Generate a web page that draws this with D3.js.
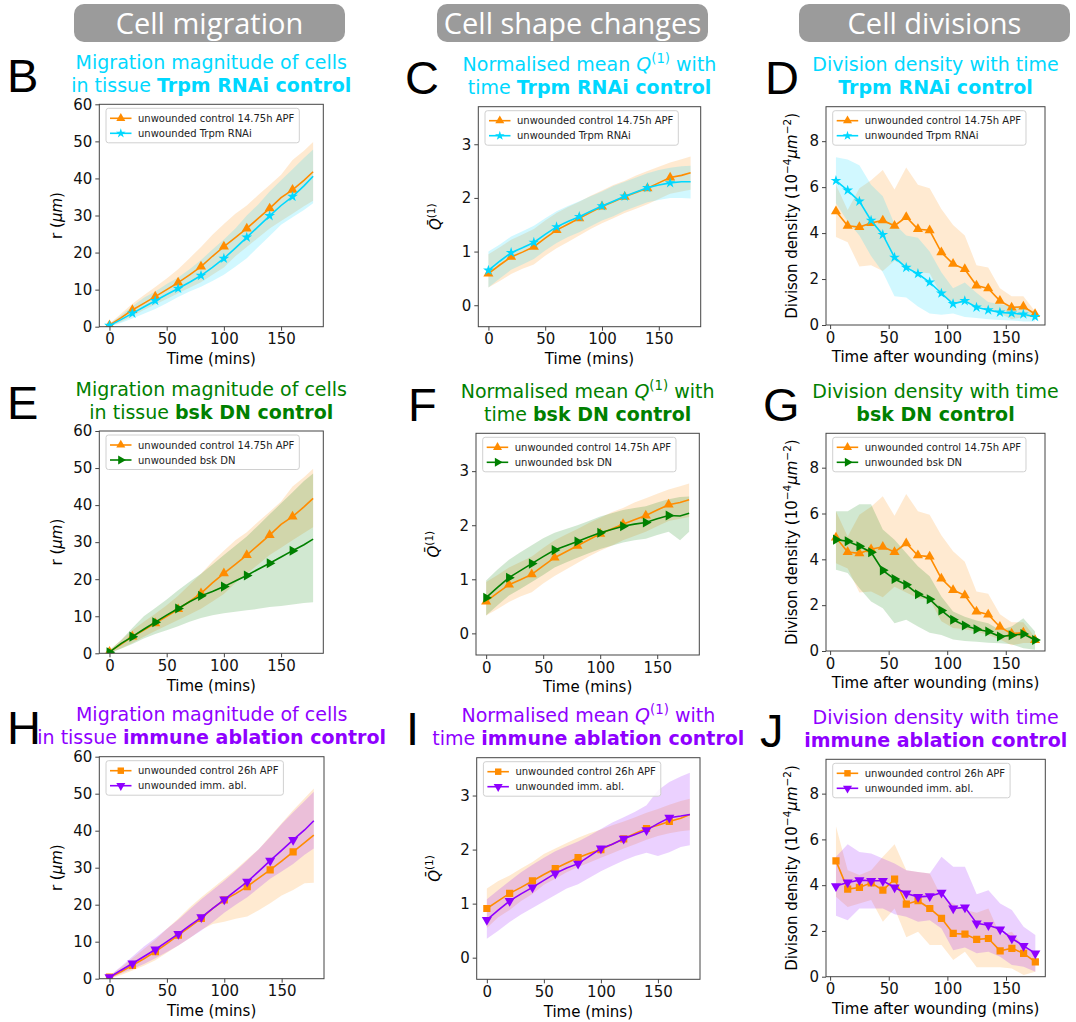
<!DOCTYPE html>
<html><head><meta charset="utf-8">
<script src="https://cdn.jsdelivr.net/npm/d3@7"></script>
<style>
body{margin:0;background:#fff}
svg{display:block}
text{font-family:"DejaVu Sans",sans-serif}
</style>
</head><body><div id="chart"></div>
<script>
// time grids
const tMig = [0,10,20,30,40,50,60,70,80,90,100,110,120,130,140,150,160,170,178]
const tDiv = [5,15,25,35,45,55,65,75,85,95,105,115,125,135,145,155,165,175]
const markMig = [0,20,40,60,80,100,120,140,160]

// migration r (um) - control 14.75h APF
const migCtrl15 = [0.4,2.4,4.5,6.3,8.1,10.0,11.9,14.0,16.2,19.0,21.6,24.0,26.5,29.2,31.9,34.8,36.9,39.5,41.8]
const migCtrl15Up = [0.8,3.5,6.2,8.5,10.7,13.0,15.5,18.5,21.5,24.8,27.7,30.5,32.7,35.5,38.2,41.0,45.0,47.5,49.8]
const migCtrl15Lo = [0.1,1.3,2.8,4.5,6.0,7.5,9.0,10.5,12.0,14.0,16.0,19.0,21.5,24.0,26.5,28.5,30.5,32.5,34.0]
// migration - Trpm RNAi
const migTrpm = [0.3,1.9,3.6,5.3,7.0,8.7,10.3,12.0,13.8,16.0,18.4,21.2,24.1,27.0,29.9,32.7,35.1,38.0,40.6]
const migTrpmUp = [0.7,3.0,5.5,7.8,9.5,11.5,13.3,15.5,18.0,20.8,23.5,26.5,30.0,33.0,36.5,39.5,42.5,45.5,47.8]
const migTrpmLo = [0.0,1.0,2.2,3.5,4.8,6.3,8.0,9.5,10.8,12.3,14.0,16.2,18.5,21.5,24.5,27.5,29.5,31.5,33.3]
// migration - bsk DN
const migBsk = [0.3,2.6,4.5,6.5,8.4,10.3,12.1,13.9,15.5,16.7,18.0,19.5,21.0,22.7,24.3,26.0,27.7,29.3,30.8]
const migBskUp = [0.8,3.5,6.8,10.0,12.2,14.5,17.0,19.3,21.5,24.0,26.5,29.0,31.5,34.5,37.5,40.5,43.5,46.5,48.5]
const migBskLo = [0.0,1.2,2.5,4.0,5.2,6.2,7.3,8.5,9.5,10.3,10.8,11.2,11.6,12.0,12.5,12.8,13.2,13.6,13.8]
// migration - control 26h APF
const migCtrl26 = [0.4,1.9,3.6,5.4,7.3,9.5,11.8,14.0,16.3,19.0,21.3,23.0,24.9,27.2,29.4,31.8,34.3,36.8,38.8]
const migCtrl26Up = [0.8,3.0,5.5,8.0,10.5,13.5,16.3,19.3,22.0,24.5,27.0,29.5,32.3,35.0,38.5,42.0,45.5,48.8,51.4]
const migCtrl26Lo = [0.0,1.0,2.2,3.5,5.0,7.0,9.0,11.0,13.2,14.8,15.4,16.2,16.8,18.5,20.4,22.5,24.0,25.8,25.9]
// migration - immune ablation
const migImm = [0.4,2.3,4.1,6.0,7.9,10.0,12.1,14.4,16.6,19.0,21.4,23.8,26.2,29.0,31.9,34.7,37.5,40.2,42.7]
const migImmUp = [0.8,3.3,6.0,8.7,11.0,13.5,16.0,18.8,21.5,24.0,26.5,29.2,32.0,35.0,38.3,41.8,45.0,48.0,50.5]
const migImmLo = [0.0,1.4,2.6,4.0,5.5,7.2,9.0,11.0,13.0,15.3,17.8,20.0,22.0,24.5,27.0,29.0,31.0,33.5,35.2]

// normalised mean Q(1)
const qCtrl15 = [0.59,0.75,0.90,0.99,1.09,1.25,1.40,1.51,1.62,1.73,1.84,1.93,2.02,2.10,2.18,2.28,2.38,2.42,2.47]
const qCtrl15Up = [0.95,1.08,1.22,1.32,1.42,1.58,1.72,1.83,1.93,2.04,2.14,2.24,2.32,2.42,2.50,2.58,2.66,2.72,2.77]
const qCtrl15Lo = [0.33,0.45,0.58,0.68,0.76,0.92,1.06,1.18,1.30,1.42,1.53,1.62,1.72,1.80,1.88,1.98,2.08,2.12,2.15]
const qTrpm = [0.65,0.82,0.98,1.07,1.17,1.32,1.46,1.56,1.65,1.75,1.85,1.94,2.03,2.11,2.19,2.24,2.28,2.30,2.30]
const qTrpmUp = [1.00,1.13,1.28,1.38,1.48,1.62,1.75,1.85,1.94,2.03,2.12,2.22,2.30,2.38,2.46,2.52,2.56,2.59,2.60]
const qTrpmLo = [0.33,0.50,0.66,0.76,0.86,1.02,1.16,1.27,1.36,1.47,1.58,1.66,1.76,1.84,1.92,1.96,2.00,2.00,1.99]
const qBsk = [0.66,0.85,1.03,1.16,1.29,1.42,1.54,1.62,1.70,1.78,1.86,1.92,1.98,2.02,2.05,2.12,2.18,2.17,2.22]
const qBskUp = [0.98,1.18,1.36,1.50,1.63,1.76,1.86,1.93,2.00,2.08,2.16,2.22,2.28,2.32,2.35,2.42,2.48,2.52,2.53]
const qBskLo = [0.33,0.52,0.70,0.82,0.95,1.08,1.22,1.31,1.40,1.48,1.56,1.62,1.68,1.72,1.75,1.82,1.88,1.72,1.88]
const qCtrl26 = [0.91,1.05,1.19,1.30,1.42,1.54,1.65,1.75,1.85,1.93,2.00,2.10,2.20,2.30,2.39,2.45,2.52,2.58,2.65]
const qCtrl26Up = [1.28,1.42,1.52,1.65,1.77,1.92,2.02,2.12,2.22,2.30,2.37,2.45,2.52,2.60,2.68,2.75,2.83,2.90,2.94]
const qCtrl26Lo = [0.55,0.75,0.88,1.05,1.18,1.35,1.46,1.58,1.68,1.76,1.85,1.93,2.02,2.10,2.18,2.25,2.30,2.34,2.36]
const qImm = [0.70,0.88,1.05,1.18,1.30,1.43,1.56,1.66,1.74,1.88,2.02,2.10,2.20,2.28,2.36,2.48,2.59,2.62,2.65]
const qImmUp = [1.08,1.25,1.42,1.58,1.72,1.85,1.97,2.06,2.15,2.26,2.38,2.50,2.60,2.70,2.82,3.10,3.25,3.35,3.42]
const qImmLo = [0.35,0.50,0.66,0.80,0.92,1.04,1.16,1.28,1.36,1.48,1.60,1.70,1.80,1.88,1.94,1.88,1.95,2.05,2.08]

// division density (1e-4 um^-2)
const divCtrl15 = [4.95,4.32,4.26,4.44,4.55,4.32,4.70,4.17,4.12,3.16,2.66,2.43,1.72,1.59,1.05,0.76,0.80,0.48]
const divCtrl15Up = [6.1,5.0,5.95,6.3,6.75,5.9,6.85,6.1,5.95,5.05,4.35,3.9,2.6,2.5,1.6,1.25,1.25,0.6]
const divCtrl15Lo = [3.83,3.6,2.55,2.6,2.35,2.8,2.55,2.3,2.25,1.3,1.0,0.95,0.85,0.7,0.5,0.25,0.35,0.35]
const divTrpm = [6.28,5.86,5.38,4.55,3.93,2.94,2.50,2.23,1.86,1.38,0.92,1.05,0.77,0.65,0.55,0.51,0.47,0.36]
const divTrpmUp = [7.3,7.2,6.95,6.1,5.6,4.4,3.9,3.8,3.2,2.3,1.6,1.85,1.4,1.0,0.9,0.85,0.75,0.55]
const divTrpmLo = [5.3,4.5,3.9,3.0,2.3,1.25,1.2,0.8,0.5,0.45,0.5,0.35,0.3,0.25,0.22,0.2,0.15,0.15]
const divBsk = [4.86,4.79,4.57,4.31,3.52,3.14,2.89,2.48,2.26,1.77,1.36,1.11,0.95,0.85,0.63,0.69,0.74,0.48]
const divBskUp = [6.1,6.1,6.4,6.4,5.3,4.86,4.28,3.7,3.26,2.38,1.72,1.5,1.33,1.21,0.92,1.07,1.43,0.85]
const divBskLo = [3.55,3.4,2.74,2.16,1.87,1.21,1.36,1.07,0.8,0.7,0.5,0.44,0.4,0.36,0.34,0.29,0.12,0.05]
const divCtrl26 = [5.06,3.83,3.90,4.10,3.78,4.26,3.17,3.32,2.98,2.55,1.89,1.86,1.63,1.67,1.13,1.24,1.02,0.65]
const divCtrl26Up = [6.57,4.65,4.44,4.65,5.24,5.79,4.65,4.58,4.51,3.49,3.2,2.91,2.79,2.98,1.82,1.96,1.31,1.02]
const divCtrl26Lo = [3.49,3.05,3.2,3.35,2.4,2.98,1.72,1.96,1.38,1.38,0.73,1.09,0.41,0.41,0.41,0.36,0.07,0.22]
const divImm = [3.96,4.12,4.22,4.19,4.19,3.90,3.64,3.49,3.52,3.67,2.98,3.03,2.33,2.25,2.07,1.67,1.35,1.02]
const divImmUp = [5.24,5.79,5.45,5.38,5.16,4.95,4.65,4.58,4.51,5.24,4.8,4.8,3.6,3.78,3.2,2.91,2.18,1.82]
const divImmLo = [2.66,2.47,2.98,2.98,2.98,2.73,2.62,2.4,2.47,2.11,1.16,1.28,1.02,1.09,0.87,0.51,0.44,0.22]

// ticks
const xTicks = [0,50,100,150]
const yTicksMig = [0,10,20,30,40,50,60]
const yTicksQ = [0,1,2,3]
const yTicksDiv = [0,2,4,6,8]

const headers = ["Cell migration","Cell shape changes","Cell divisions"]

const ORANGE = "#ff8c00", CYAN = "#00d8ff", GREEN = "#008000", PURPLE = "#8f00ff"

const W = 1076, H = 1022
const svg = d3.select("#chart").append("svg").attr("width", W).attr("height", H)

// header pills
const headerBoxes = [[74,4,271,38],[437,4,271,38],[799,4,271,38]]
headers.forEach(function(h, i){
  const b = headerBoxes[i]
  svg.append("rect").attr("x", b[0]).attr("y", b[1]).attr("width", b[2]).attr("height", b[3])
    .attr("rx", 10).attr("fill", "#9b9b9b")
  svg.append("text").attr("x", b[0] + b[2]/2).attr("y", b[1] + 30)
    .attr("text-anchor", "middle").attr("fill", "#fff")
    .style("font-family", "'Open Sans'").style("font-size", "29px").text(h)
})

// writes rich text (bold / italic / superscript pieces) into a text element
function rich(sel, segs, fs) {
  let shift = 0
  segs.forEach(function(s){
    const ts = sel.append("tspan").text(s.t)
    if (s.b) ts.attr("font-weight", "bold")
    if (s.i) ts.attr("font-style", "italic")
    const want = s.sup ? -fs*0.42 : 0
    if (want !== shift) { ts.attr("dy", want - shift); shift = want }
    if (s.sup) ts.style("font-size", (fs*0.7) + "px")
  })
}

const sym = {
  up: {type: d3.symbolTriangle, size: 44, rot: 0},
  star: {type: d3.symbolStar, size: 36, rot: 0},
  right: {type: d3.symbolTriangle, size: 44, rot: 90},
  square: {type: d3.symbolSquare, size: 52, rot: 0},
  down: {type: d3.symbolTriangle, size: 44, rot: 180}
}

const migY = [{t:"r ("},{t:"μm",i:true},{t:")"}]
const qY = [{t:"Q\u0304",i:true},{t:"(1)",sup:true}]
const divY = [{t:"Divison density (10"},{t:"−4",sup:true},{t:"μm",i:true},{t:"−2",sup:true},{t:")"}]

function s(name, color, marker, x, y, lo, hi, marks) {
  return {name: name, color: color, marker: marker, x: x, y: y, lo: lo, hi: hi, marks: marks}
}

const panels = [
  {letter:"B", box:[99.3,104.3,224,222.4], lx:7, kind:"mig", color:CYAN,
   t1:[{t:"Migration magnitude of cells"}], t2:[{t:"in tissue "},{t:"Trpm RNAi control",b:true}],
   series:[s("unwounded control 14.75h APF",ORANGE,"up",tMig,migCtrl15,migCtrl15Lo,migCtrl15Up,markMig),
           s("unwounded Trpm RNAi",CYAN,"star",tMig,migTrpm,migTrpmLo,migTrpmUp,markMig)]},
  {letter:"C", box:[478.3,106.7,222.4,220], lx:405, kind:"q", color:CYAN,
   t1:[{t:"Normalised mean "},{t:"Q",i:true},{t:"(1)",sup:true},{t:" with"}], t2:[{t:"time "},{t:"Trpm RNAi control",b:true}],
   series:[s("unwounded control 14.75h APF",ORANGE,"up",tMig,qCtrl15,qCtrl15Lo,qCtrl15Up,markMig),
           s("unwounded Trpm RNAi",CYAN,"star",tMig,qTrpm,qTrpmLo,qTrpmUp,markMig)]},
  {letter:"D", box:[826,106.7,219,218.3], lx:765, kind:"div", color:CYAN,
   t1:[{t:"Division density with time"}], t2:[{t:"Trpm RNAi control",b:true}],
   series:[s("unwounded control 14.75h APF",ORANGE,"up",tDiv,divCtrl15,divCtrl15Lo,divCtrl15Up,tDiv),
           s("unwounded Trpm RNAi",CYAN,"star",tDiv,divTrpm,divTrpmLo,divTrpmUp,tDiv)]},
  {letter:"E", box:[99.3,431,224,222.3], lx:7, kind:"mig", color:GREEN,
   t1:[{t:"Migration magnitude of cells"}], t2:[{t:"in tissue "},{t:"bsk DN control",b:true}],
   series:[s("unwounded control 14.75h APF",ORANGE,"up",tMig,migCtrl15,migCtrl15Lo,migCtrl15Up,markMig),
           s("unwounded bsk DN",GREEN,"right",tMig,migBsk,migBskLo,migBskUp,markMig)]},
  {letter:"F", box:[476,433.3,223.3,221.7], lx:408, kind:"q", color:GREEN,
   t1:[{t:"Normalised mean "},{t:"Q",i:true},{t:"(1)",sup:true},{t:" with"}], t2:[{t:"time "},{t:"bsk DN control",b:true}],
   series:[s("unwounded control 14.75h APF",ORANGE,"up",tMig,qCtrl15,qCtrl15Lo,qCtrl15Up,markMig),
           s("unwounded bsk DN",GREEN,"right",tMig,qBsk,qBskLo,qBskUp,markMig)]},
  {letter:"G", box:[826,433.3,219,217.7], lx:763, kind:"div", color:GREEN,
   t1:[{t:"Division density with time"}], t2:[{t:"bsk DN control",b:true}],
   series:[s("unwounded control 14.75h APF",ORANGE,"up",tDiv,divCtrl15,divCtrl15Lo,divCtrl15Up,tDiv),
           s("unwounded bsk DN",GREEN,"right",tDiv,divBsk,divBskLo,divBskUp,tDiv)]},
  {letter:"H", box:[99.3,756.7,224.7,222], lx:7, kind:"mig", color:PURPLE,
   t1:[{t:"Migration magnitude of cells"}], t2:[{t:"in tissue "},{t:"immune ablation control",b:true}],
   series:[s("unwounded control 26h APF",ORANGE,"square",tMig,migCtrl26,migCtrl26Lo,migCtrl26Up,markMig),
           s("unwounded imm. abl.",PURPLE,"down",tMig,migImm,migImmLo,migImmUp,markMig)]},
  {letter:"I", box:[476.7,757.7,223.3,221.6], lx:406, kind:"q", color:PURPLE,
   t1:[{t:"Normalised mean "},{t:"Q",i:true},{t:"(1)",sup:true},{t:" with"}], t2:[{t:"time "},{t:"immune ablation control",b:true}],
   series:[s("unwounded control 26h APF",ORANGE,"square",tMig,qCtrl26,qCtrl26Lo,qCtrl26Up,markMig),
           s("unwounded imm. abl.",PURPLE,"down",tMig,qImm,qImmLo,qImmUp,markMig)]},
  {letter:"J", box:[826,759.3,219.3,217.4], lx:760, kind:"div", color:PURPLE,
   t1:[{t:"Division density with time"}], t2:[{t:"immune ablation control",b:true}],
   series:[s("unwounded control 26h APF",ORANGE,"square",tDiv,divCtrl26,divCtrl26Lo,divCtrl26Up,tDiv),
           s("unwounded imm. abl.",PURPLE,"down",tDiv,divImm,divImmLo,divImmUp,tDiv)]}
]

const kinds = {
  mig: {xd:[-8.9,186.9], yd:[0,60], yt:yTicksMig, ylab:migY, xlab:"Time (mins)", yoff:-37},
  q:   {xd:[-8.9,186.9], yd:[-0.4,3.7], yt:yTicksQ, ylab:qY, xlab:"Time (mins)", yoff:-37},
  div: {xd:[-3.5,183.5], yd:[0,9.5], yt:yTicksDiv, ylab:divY, xlab:"Time after wounding (mins)", yoff:-29}
}

panels.forEach(function(p, pi){
  const k = kinds[p.kind]
  const [px, py, w, h] = p.box
  const g = svg.append("g").attr("transform", "translate(" + px + "," + py + ")")
  const x = d3.scaleLinear().domain(k.xd).range([0, w])
  const y = d3.scaleLinear().domain(k.yd).range([h, 0])

  const cid = "clip" + pi
  g.append("clipPath").attr("id", cid).append("rect").attr("width", w).attr("height", h)
  const plot = g.append("g").attr("clip-path", "url(#" + cid + ")")

  // bands first
  p.series.forEach(function(se){
    const area = d3.area().x(function(d, i){ return x(se.x[i]) })
      .y0(function(d, i){ return y(se.lo[i]) }).y1(function(d, i){ return y(se.hi[i]) })
    plot.append("path").datum(se.y).attr("d", area).attr("fill", se.color).attr("fill-opacity", 0.18)
  })
  p.series.forEach(function(se){
    const line = d3.line().x(function(d, i){ return x(se.x[i]) }).y(function(d){ return y(d) })
    plot.append("path").datum(se.y).attr("d", line).attr("fill", "none")
      .attr("stroke", se.color).attr("stroke-width", 1.6)
    const m = sym[se.marker]
    const pts = se.x.map(function(t, i){ return [t, se.y[i]] }).filter(function(d){ return se.marks.indexOf(d[0]) >= 0 })
    plot.selectAll(null).data(pts).enter().append("path")
      .attr("d", d3.symbol().type(m.type).size(m.size))
      .attr("transform", function(d){ return "translate(" + x(d[0]) + "," + y(d[1]) + ") rotate(" + m.rot + ")" })
      .attr("fill", se.color)
  })

  // frame
  g.append("rect").attr("width", w).attr("height", h).attr("fill", "none").attr("stroke", "#444").attr("stroke-width", 1)

  // axes
  const ax = g.append("g").attr("transform", "translate(0," + h + ")")
    .call(d3.axisBottom(x).tickValues(xTicks).tickFormat(d3.format("d")).tickSize(4).tickPadding(3))
  const ay = g.append("g").call(d3.axisLeft(y).tickValues(k.yt).tickFormat(d3.format("d")).tickSize(4).tickPadding(3))
  ;[ax, ay].forEach(function(a){
    a.select(".domain").remove()
    a.selectAll("line").attr("stroke", "#444")
    a.selectAll("text").style("font-family", "'DejaVu Sans'").style("font-size", "15px").attr("fill", "#111")
  })

  // axis labels
  g.append("text").attr("x", w/2).attr("y", h + 37.5).attr("text-anchor", "middle")
    .style("font-size", "15px").text(k.xlab)
  const yl = g.append("text").attr("text-anchor", "middle").style("font-size", "15px")
    .attr("transform", "translate(" + k.yoff + "," + (h/2) + ") rotate(-90)")
  rich(yl, k.ylab, 15)

  // titles
  const t1 = g.append("text").attr("x", w/2).attr("y", -35.5).attr("text-anchor", "middle")
    .attr("fill", p.color).style("font-size", "19px")
  rich(t1, p.t1, 19)
  const t2 = g.append("text").attr("x", w/2).attr("y", -12.5).attr("text-anchor", "middle")
    .attr("fill", p.color).style("font-size", "19px")
  rich(t2, p.t2, 19)

  // panel letter
  svg.append("text").attr("x", p.lx).attr("y", py - 12.5)
    .style("font-family", "'Liberation Sans'").style("font-size", "47px").text(p.letter)

  // legend
  const lg = g.append("g").attr("transform", "translate(6.7,4)")
  const lbox = lg.append("rect").attr("height", 34.5).attr("rx", 2.5)
    .attr("fill", "#fff").attr("fill-opacity", 0.85).attr("stroke", "#d0d0d0")
  let maxw = 0
  p.series.forEach(function(se, i){
    const yy = 10 + i*15
    lg.append("line").attr("x1", 4).attr("x2", 25.5).attr("y1", yy).attr("y2", yy)
      .attr("stroke", se.color).attr("stroke-width", 1.6)
    const m = sym[se.marker]
    lg.append("path").attr("d", d3.symbol().type(m.type).size(m.size*0.8))
      .attr("transform", "translate(14.8," + yy + ") rotate(" + m.rot + ")").attr("fill", se.color)
    const tx = lg.append("text").attr("x", 32).attr("y", yy + 3.6).style("font-size", "10px")
      .attr("fill", "#222").text(se.name)
    maxw = Math.max(maxw, tx.node().getComputedTextLength())
  })
  lbox.attr("width", 32 + maxw + 5)
})
</script>
</body></html>
